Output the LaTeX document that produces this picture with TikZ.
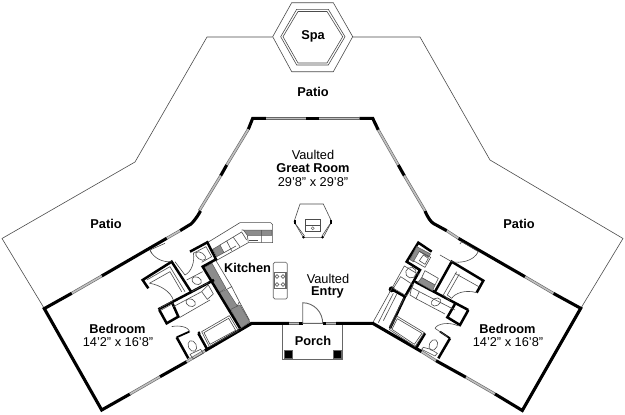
\documentclass[tikz,border=0pt]{standalone}
\usepackage{fontspec}
\setmainfont{Liberation Sans}
\tikzset{
 wall/.style={draw=black,line width=3.1pt,line join=miter,line cap=butt},
 iwall/.style={draw=black,line width=2.5pt,line join=miter,line cap=butt},
 win/.style={draw=black!60,line width=.6pt,double=black!25,double distance=1.6pt,line cap=butt},
 thin/.style={draw=black!70,line width=.6pt},
 fine/.style={draw=black!60,line width=.5pt},
 hatch/.style={fill=black!45,draw=black!65,line width=.5pt},
 bold/.style={font=\fontsize{12.8}{14}\selectfont\bfseries,inner sep=0pt},
 reg/.style={font=\fontsize{12.8}{14}\selectfont,inner sep=0pt},
 zl/.style={shift={(130pt,-220pt)},x=.3333pt,y=-.3333pt},
 zr/.style={shift={(360pt,-230pt)},x=.3333pt,y=-.3333pt},
}
\begin{document}
\begin{tikzpicture}[x=1pt,y=-1pt]
\useasboundingbox (0,0) rectangle (625,415);
\fill[white] (0,0) rectangle (625,415);
% patio
\draw[thin] (44,308) -- (2,238.5) -- (135,162) -- (207,37) -- (272.7,37);
\draw[thin] (352.7,37) -- (420,37) -- (490,160) -- (623,238.5) -- (581,308);
% spa
\draw[thin] (272.7,36.7) -- (291.7,2.7) -- (333.3,2.7) -- (352.7,36.7) -- (333.3,71.7) -- (291.7,71.7) -- cycle;
\draw[thin] (280.7,36.7) -- (296.7,9.3) -- (328.3,9.3) -- (345,36.7) -- (328.3,65) -- (296.7,65) -- cycle;
\draw[thin] (283,36.7) -- (298,11.5) -- (327,11.5) -- (342.7,36.7) -- (327,63) -- (298,63) -- cycle;
% great room
\draw[wall] (248.3,129.3) -- (252.7,118.3) -- (266,118.3);
\draw[wall] (306,118.3) -- (319.3,118.3);
\draw[wall] (359.3,118.3) -- (372.7,118.3) -- (378.3,130);
\draw[win] (266,118.3) -- (306,118.3);
\draw[win] (319.3,118.3) -- (359.3,118.3);
\draw[win] (248.3,129.3) -- (226.7,165);
\draw[wall] (226.7,165) -- (220.7,175.7);
\draw[win] (220.7,175.7) -- (199.3,210.7);
\draw[win] (378.3,130) -- (398.3,165);
\draw[wall] (398.3,165) -- (404.3,175.7);
\draw[win] (404.3,175.7) -- (425,210.7);
% left wing outer
\draw[wall] (200.5,211) .. controls (196,219) and (193,222) .. (191,224) -- (180,230.7);
\draw[win] (180,230.7) -- (166.7,238.3);
\draw[wall] (166.7,238.3) -- (101.7,276);
\draw[win] (101.7,276) -- (71.7,293.3);
\draw[wall] (71.7,293.3) -- (44.3,308.6) -- (101.7,410) -- (130,394);
\draw[win] (130,394) -- (160,376.7);
\draw[wall] (160,376.7) -- (186.7,361.7);
\draw[win] (186.7,361.7) -- (205,350.7);
\draw[wall] (205,350.7) -- (251.7,323.3) -- (289.3,323.3);
\draw[win] (289.3,323.3) -- (299.3,323.3);
\draw[wall] (299.3,323.3) -- (302.7,323.3);
\draw[wall] (322.7,323.3) -- (326,323.3);
\draw[win] (326,323.3) -- (336,323.3);
\draw[wall] (336,323.3) -- (372.7,323.3) -- (421.7,351.7);
% right wing outer
\draw[win] (421.7,351.7) -- (436,360.7);
\draw[wall] (436,360.7) -- (466,377.3);
\draw[win] (466,377.3) -- (495,394);
\draw[wall] (495,394) -- (522.3,410.5) -- (580.7,308.3) -- (553.3,293.3);
\draw[win] (553.3,293.3) -- (525,276.7);
\draw[wall] (525,276.7) -- (458.3,238.3);
\draw[win] (458.3,238.3) -- (446.7,230.7);
\draw[wall] (446.7,230.7) -- (433.5,223.5) .. controls (431,222) and (428,218) .. (425,211);
% porch
\draw[draw=black!60,line width=.9pt] (282.7,325) -- (282.7,359) -- (342.7,359) -- (342.7,325);
\fill[black] (284,350) rectangle (292.5,358.5);
\fill[black] (333,350) rectangle (341.5,358.5);
\draw[draw=black!60,line width=.6pt] (284,350) rectangle (292.5,358.5) (333,350) rectangle (341.5,358.5);
\draw[draw=black!60,line width=.9pt] (302.7,323.3) -- (302.7,302.7) .. controls (314,303) and (322.7,312) .. (322.7,323.3) -- cycle;
% fireplace
\draw[thin] (300,204) -- (323.3,204) -- (331.7,221.7) -- (323.3,237.3) -- (303.3,237.3) -- (294,221.7) -- cycle;
\draw[thin] (295.5,224) -- (304.5,236) (330,224) -- (322,236);
\draw[wall,line width=2pt] (294.5,219.5) -- (294.5,223.5) (331.2,219.5) -- (331.2,223.5);
\fill (303.5,237.3) circle (1.4) (322.5,237.3) circle (1.4);
\draw[thin] (305,219.3) rectangle (320.7,231.7) (305,225) -- (320.7,225);
\draw[fine] (312.7,228.3) circle (1.5);
% island
\draw[draw=black!60,line width=.7pt,rounded corners=1.5pt] (273.3,262.3) rectangle (287.3,299);
\draw[fine] (274,272.7) rectangle (286.7,288.3);
\foreach \a/\b in {277/276.5,283/276.5,277/284.5,283/284.5}{\draw[fine,line width=.6pt] (\a,\b) circle (1.9);}
\draw[fine] (285.5,273) -- (285.5,288);
% ===== left service block, in crop units
\begin{scope}[zl]
\draw[thin] (232,68) -- (330,8) -- (422,8) -- (428,14) -- (428,68) -- (355,68) -- (258,122);
\draw[hatch] (340,30) -- (426,30) -- (426,46) -- (352,46) -- cycle;
\draw[thin] (395,30) -- (395,68) (352,46) -- (355,68) (335,30) -- (340,30);
\draw[hatch] (248,88) -- (270,75) -- (282,98) -- (260,110) -- cycle;
\draw[thin] (270,75) -- (335,36) -- (350,60) (282,98) -- (318,78);
\draw[thin] (290,63) -- (305,92) (310,52) -- (330,80);
\draw[thin] (358,62) -- (385,62);
% long counter
\draw[hatch] (222,143) -- (246,130) -- (288,205) -- (267,218) -- cycle;
\draw[hatch] (268,218) -- (290,208) -- (322,258) -- (300,272) -- cycle;
\draw[hatch] (302,268) -- (330,255) -- (360,306) -- (332,325) -- cycle;
\draw[thin] (258,122) -- (305,200) -- (290,208);
\draw[thin] (305,200) -- (328,245) -- (322,258) (328,245) -- (358,300);
% walls
\draw[iwall] (180,95) -- (232,67) -- (258,118) -- (218,140) -- (330,325);
\draw[iwall] (55,205) -- (38,180) -- (125,125) -- (185,218);
\draw[iwall] (252,180) -- (85,268);
\draw[iwall] (125,245) -- (145,290) -- (110,310) -- (88,270);
\draw[iwall] (205,340) -- (230,385);
\draw[iwall] (205,340) -- (210,337);
\draw[iwall] (140,352) -- (175,415);
\draw[iwall,line width=1.8pt] (140,352) -- (178,335);
% closet inner
\draw[thin] (50,180) -- (120,140) -- (165,215) (58,190) -- (120,155) -- (155,215);
% doors
\draw[thin] (105,70) -- (60,90) -- (65,100);
\draw[thin] (60,90) .. controls (70,115) and (100,128) .. (125,125);
\draw[thin] (190,98) .. controls (195,125) and (185,155) .. (165,165) -- (135,125);
\draw[thin] (60,190) .. controls (90,195) and (122,215) .. (130,240);
\draw[thin] (125,320) .. controls (145,315) and (175,320) .. (180,335);
\draw[thin] (88,265) -- (128,243) (92,271) -- (130,250);
% fixtures
\draw[thin] (190,100) -- (228,80) -- (245,110) -- (215,127);
\draw[thin,rotate around={-35:(212,108)}] (212,108) ellipse (17 and 10);
\draw[thin] (170,180) -- (218,155) (185,215) -- (235,188);
\draw[thin,rotate around={-25:(200,182)}] (200,182) ellipse (15 and 11);
\draw[thin] (215,215) -- (235,195) -- (250,222) -- (232,238) -- cycle;
\draw[thin] (130,260) -- (215,215) (150,292) -- (240,240);
\draw[thin,rotate around={-25:(182,248)}] (182,248) ellipse (15 and 11);
\draw[thin] (215,335) -- (298,287) -- (325,332) -- (238,380) -- cycle;
\draw[thin] (222,338) -- (296,295) -- (317,331) -- (240,373) -- cycle;
\draw[thin,rotate around={25:(187,378)}] (187,378) ellipse (12 and 17);
\draw[thin] (180,403) -- (212,388) -- (220,400) -- (190,417) -- cycle;
\end{scope}
% ===== right service block, in crop units
\begin{scope}[zr]
\draw[iwall] (215,65) -- (175,38) -- (140,95) -- (180,120) -- (135,200) -- (90,295);
\draw[iwall] (165,155) -- (325,240);
\draw[iwall] (225,185) -- (275,95) -- (370,152) -- (350,188);
\draw[iwall] (285,222) -- (262,262) -- (300,285) -- (325,240);
\draw[iwall] (95,178) -- (135,200);
\fill (95,178) circle (6pt*.5);
\draw[iwall] (195,310) -- (170,352);
\draw[iwall] (270,325) -- (235,385);
\draw[iwall,line width=1.8pt] (270,325) -- (240,305);
% laundry
\draw[hatch] (170,50) -- (212,72) -- (205,82) -- (178,64) -- (160,95) -- (150,89) -- cycle;
\draw[thin] (178,64) -- (212,82) -- (195,112) -- (160,92);
\draw[thin] (190,75) -- (205,85) -- (195,103) -- (178,92) -- cycle;
% washer/dryer and closet
\draw[thin] (133,108) -- (178,135) (133,108) -- (40,275);
\draw[thin,rotate around={30:(153,128)}] (153,128) circle (16);
\draw[thin] (122,140) -- (160,165) -- (140,198) -- (100,175) -- cycle;
\draw[thin] (100,190) -- (55,278) (110,193) -- (70,272) (132,205) -- (88,290);
\draw[thin] (195,122) -- (235,145) -- (225,165) -- (185,143) -- cycle;
\draw[hatch] (185,143) -- (225,165) -- (218,182) -- (174,157) -- cycle;
% vanity
\draw[thin] (155,172) -- (178,185) -- (168,206) -- (150,195) -- cycle;
\draw[thin] (178,185) -- (285,240);
\draw[thin] (168,206) -- (255,252);
\draw[thin,rotate around={30:(228,216)}] (228,216) ellipse (15 and 11);
% closet inner
\draw[thin] (285,130) -- (360,172) (290,125) -- (250,195) -- (270,212) (298,132) -- (262,195) -- (275,205);
\draw[thin] (350,188) .. controls (315,178) and (285,190) .. (275,205);
\draw[thin] (240,75) -- (275,95);
\draw[thin] (275,95) .. controls (300,100) and (340,95) .. (355,65) -- (305,35) -- (300,42);
% tub
\draw[thin] (110,258) -- (193,308) -- (165,350) -- (88,298) -- cycle;
\draw[thin] (112,266) -- (186,310) -- (163,343) -- (96,298) -- cycle;
% toilet
\draw[thin] (225,295) .. controls (232,280) and (270,275) .. (295,288);
\draw[thin] (225,295) -- (262,320);
\draw[thin,rotate around={-25:(220,345)}] (220,345) ellipse (12 and 17);
\draw[thin] (190,352) -- (212,358) -- (232,370) -- (225,378) -- (185,358) -- cycle;
\end{scope}
% text
\node[bold] (spa) at (313,36.5) {Spa};
\node[bold] (patiot) at (313,92) {Patio};
\node[bold] (patiol) at (106,223.5) {Patio};
\node[bold] (patior) at (519,223.5) {Patio};
\node[reg] (v1) at (313,155) {Vaulted};
\node[bold] (gr) at (313,168.5) {Great Room};
\node[reg] (gd) at (313,182) {29'8" x 29'8"};
\node[bold] (kit) at (247.5,268) {Kitchen};
\node[reg] (v2) at (328,278.5) {Vaulted};
\node[bold] (en) at (327.5,292.5) {Entry};
\node[bold] (po) at (313,341) {Porch};
\node[bold] (bl) at (117.5,328.5) {Bedroom};
\node[reg] (bld) at (118,342) {14'2" x 16'8"};
\node[bold] (br) at (507.5,328.5) {Bedroom};
\node[reg] (brd) at (508,342) {14'2" x 16'8"};
\end{tikzpicture}
\end{document}
